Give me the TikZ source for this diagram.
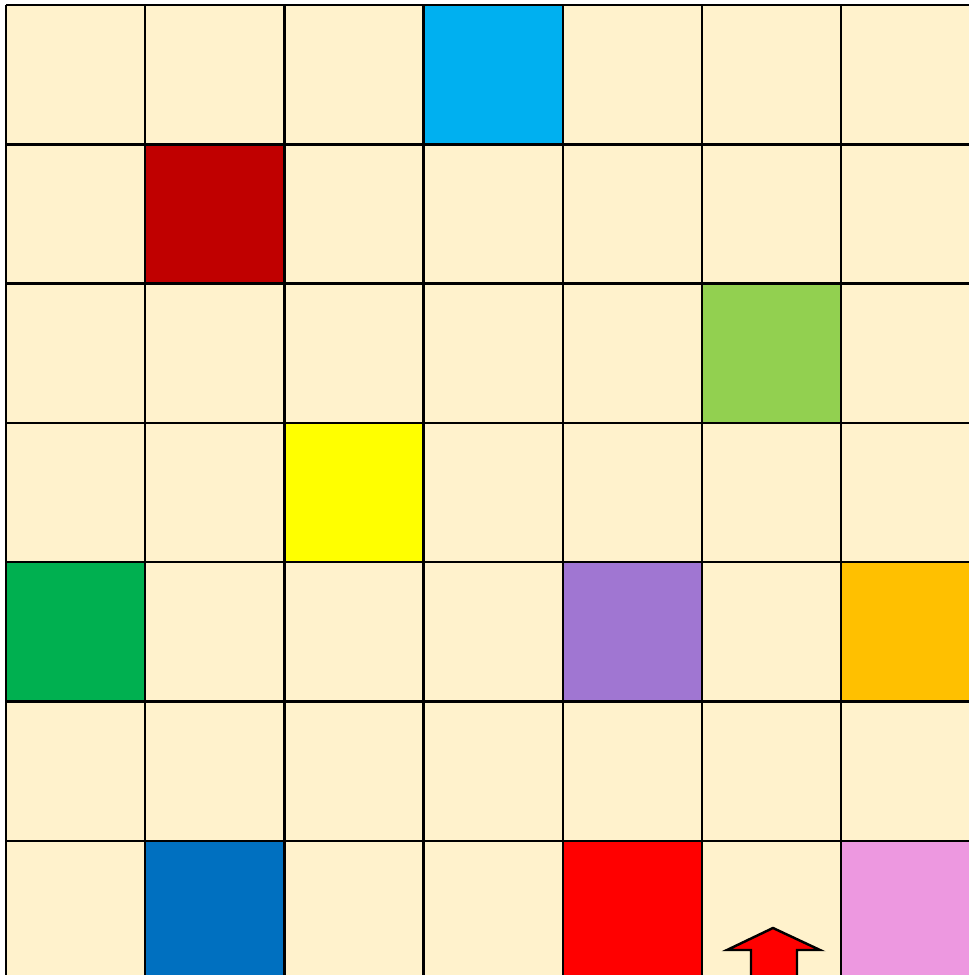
\documentclass[tikz,border=0pt]{standalone}
\begin{document}
\begin{tikzpicture}[x=0.01cm,y=-0.01cm,
  gridline/.style={line width=0.7pt, black},
  cellfill/.style={fill=#1, draw=none}]
\definecolor{bg}{HTML}{FFF2CC}
\definecolor{cskyblue}{HTML}{00B0F0}
\definecolor{cdarkred}{HTML}{C00000}
\definecolor{clightgreen}{HTML}{92D050}
\definecolor{cyellow}{HTML}{FFFF00}
\definecolor{cgreen}{HTML}{00B050}
\definecolor{cpurple}{HTML}{A076D2}
\definecolor{corange}{HTML}{FFC000}
\definecolor{cblue}{HTML}{0070C0}
\definecolor{cred}{HTML}{FF0000}
\definecolor{cpink}{HTML}{ED98E0}
\useasboundingbox (0,0) rectangle (969,975);
\clip (0,0) rectangle (969,975);
\fill[white] (0,0) rectangle (969,975);
\def\ox{6}\def\oy{5}\def\sx{139.2}\def\sy{139.3}
\fill[bg] (\ox,\oy) rectangle (1000,1000);
\foreach \c/\r/\col in {3/0/cskyblue,1/1/cdarkred,5/2/clightgreen,2/3/cyellow,0/4/cgreen,4/4/cpurple,6/4/corange,1/6/cblue,4/6/cred,6/6/cpink}{
  \fill[\col] ({\ox+\c*\sx},{\oy+\r*\sy}) rectangle ({\ox+(\c+1)*\sx},{\oy+(\r+1)*\sy});
}
\foreach \i in {0,...,7}{
  \draw[gridline] ({\ox+\i*\sx},\oy) -- ({\ox+\i*\sx},1000);
  \draw[gridline] (\ox,{\oy+\i*\sy}) -- (1000,{\oy+\i*\sy});
}
\draw[line width=0.7pt, fill=cred, line join=miter] (773,928) -- (820,950) -- (797,950) -- (797,990) -- (751,990) -- (751,950) -- (727,950) -- cycle;
\end{tikzpicture}
\end{document}
